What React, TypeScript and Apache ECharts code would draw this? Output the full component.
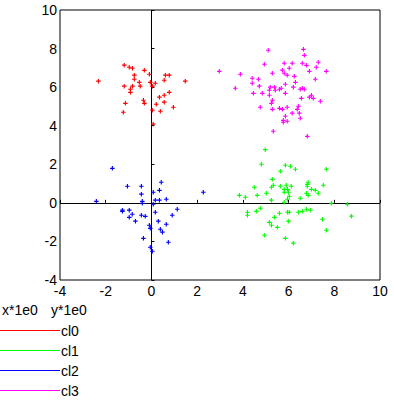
import React, { useEffect, useRef } from "react";
import * as echarts from "echarts";

const clusterNames = ["cl0", "cl1", "cl2", "cl3"];
const clusterColors = ["#ff0000", "#00ff00", "#0000ff", "#ff00ff"];
const xTicks = [-4, 10, 2]; // min, max, interval
const yTicks = [-4, 10, 2];
const axisCaptions = ["x*1e0", "y*1e0"];

const cl0: number[][] = [
  [-1.19, 7.14], [-0.97, 7.03], [-0.83, 6.98], [-0.31, 6.87], [-0.09, 6.67],
  [0.61, 6.62], [0.78, 6.62], [-0.75, 6.62], [-0.75, 6.41], [-2.32, 6.31],
  [-0.53, 6.25], [-0.05, 6.25], [0.56, 6.36], [1.48, 6.31], [0.17, 6.2],
  [-1.19, 6.05], [-0.83, 6.05], [-0.49, 6.05], [0.04, 6.05], [-0.92, 5.89],
  [-0.92, 5.73], [0.78, 5.73], [0.56, 5.58], [0.35, 5.48], [-0.35, 5.32],
  [0.56, 5.22], [-1.14, 5.16], [-0.31, 5.16], [0.21, 5.11], [0.96, 4.96],
  [0.04, 4.8], [0.39, 4.75], [-1.23, 4.7], [0.08, 4.08],
];

const cl1: number[][] = [
  [4.98, 2.76], [4.81, 2.0], [5.86, 1.95], [6.08, 1.9], [6.3, 1.74],
  [7.65, 1.74], [5.64, 1.64], [5.29, 1.22], [4.5, 0.81], [5.25, 0.81],
  [5.33, 0.91], [5.64, 0.86], [5.9, 0.91], [6.12, 0.86], [6.82, 0.96],
  [6.86, 1.07], [6.82, 0.86], [7.52, 0.91], [5.81, 0.7], [5.95, 0.7],
  [7.0, 0.7], [7.17, 0.65], [5.81, 0.55], [5.99, 0.55], [3.85, 0.39],
  [4.11, 0.29], [4.63, 0.39], [5.03, 0.5], [6.03, 0.34], [6.78, 0.5],
  [6.86, 0.39], [7.3, 0.5], [6.51, 0.24], [5.25, 0.14], [5.81, 0.03],
  [5.95, 0.19], [7.87, -0.02], [8.57, -0.07], [4.76, -0.28], [6.78, -0.33],
  [6.95, -0.38], [4.59, -0.44], [4.2, -0.49], [5.6, -0.54], [5.95, -0.49],
  [6.03, -0.49], [6.43, -0.49], [6.6, -0.44], [4.2, -0.64], [5.38, -0.75],
  [8.75, -0.69], [7.48, -0.85], [5.16, -1.01], [5.99, -0.95], [5.25, -1.16],
  [5.51, -1.27], [7.65, -1.42], [4.94, -1.68], [5.86, -1.84], [6.21, -2.09],
];

const cl2: number[][] = [
  [-1.71, 1.79], [-1.05, 0.86], [-0.44, 0.86], [0.43, 1.07], [0.35, 0.65],
  [0.08, 0.55], [-0.44, 0.45], [2.27, 0.55], [-2.41, 0.08], [-0.4, 0.08],
  [-0.4, -0.02], [0.17, 0.14], [0.35, 0.14], [0.65, 0.19], [0.08, -0.07],
  [-1.27, -0.38], [-1.27, -0.44], [-0.97, -0.38], [1.13, -0.33], [-0.84, -0.59],
  [0.17, -0.49], [-0.97, -0.75], [-0.44, -0.64], [-0.27, -0.7], [0.91, -0.64],
  [-0.7, -0.95], [0.3, -0.95], [0.65, -1.11], [-0.09, -1.16], [-0.05, -1.32],
  [0.39, -1.37], [0.48, -1.52], [-0.35, -1.84], [0.74, -2.04], [-0.05, -2.3],
  [0.04, -2.51],
];

const cl3: number[][] = [
  [5.11, 7.91], [6.65, 7.96], [6.69, 7.65], [4.94, 7.19], [5.81, 7.24],
  [6.16, 7.24], [6.6, 7.24], [6.78, 7.13], [7.3, 7.29], [7.21, 7.03],
  [2.97, 6.82], [3.89, 6.67], [5.29, 6.72], [5.73, 6.88], [6.03, 6.98],
  [5.94, 6.62], [5.81, 6.72], [6.25, 6.56], [6.91, 6.82], [7.65, 6.82],
  [4.41, 6.46], [4.68, 6.41], [4.41, 6.2], [6.3, 6.25], [7.17, 6.41],
  [3.67, 5.94], [4.72, 6.05], [5.2, 6.0], [5.38, 6.0], [5.42, 5.84],
  [5.16, 5.84], [5.6, 5.89], [5.68, 5.94], [5.86, 6.15], [6.21, 6.0],
  [6.51, 5.89], [6.6, 5.94], [6.69, 5.89], [4.46, 5.68], [4.85, 5.68],
  [5.16, 5.58], [5.86, 5.68], [5.29, 5.32], [5.25, 5.16], [6.56, 5.42],
  [6.91, 5.48], [7.0, 5.58], [7.08, 5.42], [7.39, 5.27], [4.76, 4.96],
  [5.29, 4.85], [5.6, 4.9], [5.73, 4.85], [5.94, 4.96], [6.43, 5.01],
  [6.38, 4.85], [6.16, 4.65], [6.47, 4.65], [5.86, 4.49], [6.51, 4.39],
  [5.77, 4.28], [5.77, 4.18], [5.94, 4.23], [5.33, 3.71], [6.82, 3.45],
];

const clusterData = [cl0, cl1, cl2, cl3];

const FONT = "'Liberation Sans', Arial, sans-serif";
const PLUS = "path://M1.5,0H2.5V4H1.5Z M0,1.5H4V2.5H0Z";

export default function App() {
  const ref = useRef<HTMLDivElement>(null);
  useEffect(() => {
    if (!ref.current) return;
    const chart = echarts.init(ref.current, undefined, { renderer: "svg" });
    const axisCommon = {
      type: "value" as const,
      axisLine: { show: false },
      axisTick: { show: true, inside: true, length: 3, lineStyle: { color: "#000", width: 1 } },
      splitLine: { show: false },
    };
    chart.setOption({
      animation: false,
      backgroundColor: "#fff",
      grid: {
        left: 60,
        top: 10,
        width: 320,
        height: 270,
        show: true,
        borderColor: "#000",
        borderWidth: 1,
        backgroundColor: "transparent",
      },
      xAxis: {
        ...axisCommon,
        min: xTicks[0],
        max: xTicks[1],
        interval: xTicks[2],
        axisLabel: { color: "#000", fontSize: 14, fontFamily: FONT, margin: 4 },
      },
      yAxis: {
        ...axisCommon,
        min: yTicks[0],
        max: yTicks[1],
        interval: yTicks[2],
        axisLabel: { color: "#000", fontSize: 14, fontFamily: FONT, margin: 3 },
      },
      legend: {
        orient: "vertical",
        left: 0,
        top: 323,
        padding: 0,
        itemWidth: 60,
        itemHeight: 1,
        itemGap: 5,
        icon: "rect",
        data: clusterNames,
        textStyle: { color: "#000", fontSize: 14, fontFamily: FONT, lineHeight: 15, padding: [0, 0, 0, -4] },
      },
      graphic: [
        { type: "text", left: 2, top: 303, style: { text: axisCaptions[0], fill: "#000", font: `14px ${FONT}` } },
        { type: "text", left: 51, top: 303, style: { text: axisCaptions[1], fill: "#000", font: `14px ${FONT}` } },
      ],
      series: clusterNames.map((name, i) => ({
        name,
        type: "scatter",
        data: clusterData[i],
        symbol: PLUS,
        symbolSize: 4.5,
        itemStyle: { color: clusterColors[i], opacity: 1 },
        z: 3,
        ...(i === 0
          ? {
              markLine: {
                silent: true,
                symbol: ["none", "none"],
                label: { show: false },
                lineStyle: { color: "#000", width: 1, type: "solid" },
                z: 1,
                data: [{ xAxis: 0 }, { yAxis: 0 }],
              },
            }
          : {}),
      })),
    });
    return () => chart.dispose();
  }, []);
  return (
    <div
      ref={ref}
      style={{ position: "fixed", left: 0, top: 0, width: 394, height: 400, background: "#fff" }}
    />
  );
}
